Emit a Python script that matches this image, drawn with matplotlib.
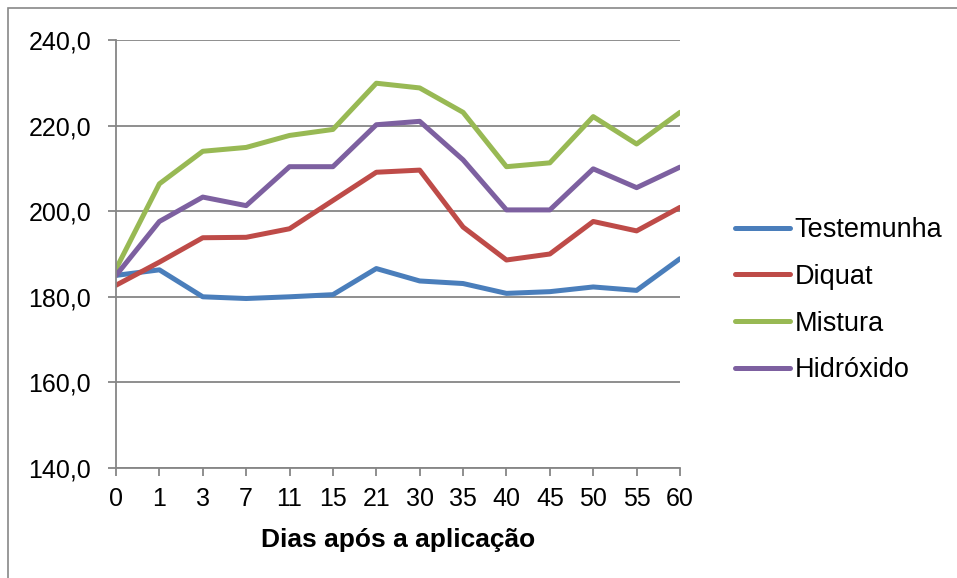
import matplotlib.pyplot as plt
from matplotlib.patches import Rectangle

# ==============================
# DATA
# ==============================
dias = ["0", "1", "3", "7", "11", "15", "21", "30", "35", "40", "45", "50", "55", "60"]

testemunha = [185.0, 186.3, 180.0, 179.6, 180.0, 180.5, 186.6, 183.7, 183.1, 180.8, 181.2, 182.3, 181.5, 188.9]
diquat     = [182.7, 188.1, 193.8, 193.9, 195.9, 202.5, 209.1, 209.6, 196.3, 188.6, 190.0, 197.6, 195.4, 200.9]
mistura    = [186.5, 206.4, 214.0, 214.9, 217.7, 219.1, 229.9, 228.8, 223.1, 210.4, 211.3, 222.1, 215.7, 223.1]
hidroxido  = [185.0, 197.6, 203.3, 201.3, 210.4, 210.4, 220.2, 221.0, 212.0, 200.3, 200.3, 209.9, 205.5, 210.3]

series = [
    ("Testemunha", testemunha, "#4A7EBB"),
    ("Diquat", diquat, "#BE4B48"),
    ("Mistura", mistura, "#98B954"),
    ("Hidróxido", hidroxido, "#7D60A0"),
]

yticks = [140, 160, 180, 200, 220, 240]

# ==============================
# PLOT
# ==============================
plt.rcParams['font.family'] = ['Liberation Sans', 'DejaVu Sans']

fig = plt.figure(figsize=(9.57, 5.78), dpi=100)
fig.patches.append(Rectangle((8 / 957, -0.05), 1.2, 1 - 8 / 578 + 0.05,
                             transform=fig.transFigure, fill=False,
                             edgecolor="#888888", linewidth=1.2))

ax = fig.add_axes([116 / 957, 1 - 468 / 578, (680 - 116) / 957, (468 - 40) / 578])

x = list(range(len(dias)))
for name, vals, color in series:
    ax.plot(x, vals, color=color, linewidth=3.6, label=name, solid_capstyle="round")

ax.set_xlim(0, len(dias) - 1)
ax.set_ylim(140, 240)
ax.set_xticks(x)
ax.set_xticklabels(dias)
ax.set_yticks(yticks)
ax.set_yticklabels([f"{v:.1f}".replace(".", ",") for v in yticks])

ax.grid(axis="y", color="#868686", linewidth=1.3)
ax.set_axisbelow(True)
for side in ["top", "right"]:
    ax.spines[side].set_visible(False)
for side in ["left", "bottom"]:
    ax.spines[side].set_color("#868686")
    ax.spines[side].set_linewidth(1.3)

ax.tick_params(axis="both", colors="#868686", labelcolor="black", labelsize=18,
               length=6, width=1.3)
ax.tick_params(axis="y", pad=12)
ax.tick_params(axis="x", pad=8)

ax.set_xlabel("Dias após a aplicação", fontsize=19, fontweight="bold", labelpad=12)

ax.legend(loc="center left", bbox_to_anchor=(1.0975, 0.392), frameon=False,
          borderaxespad=0, borderpad=0,
          fontsize=19.5, handlelength=2.03, handletextpad=0.18, labelspacing=0.76)

fig.savefig("out.png", dpi=100)
